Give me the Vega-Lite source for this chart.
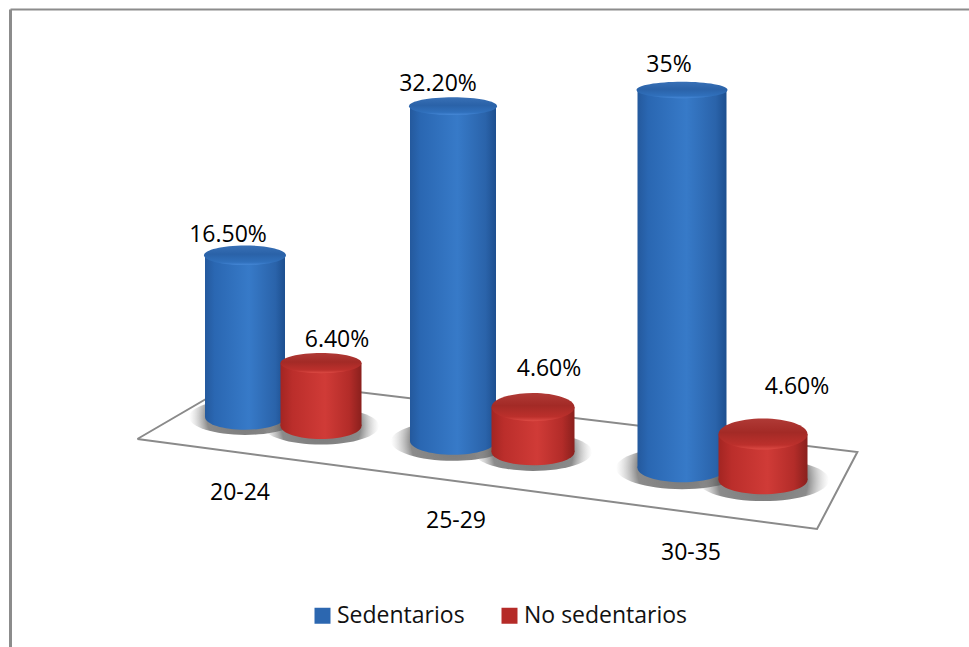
{
  "$schema": "https://vega.github.io/schema/vega-lite/v6.json",
  "width": 959,
  "height": 638,
  "autosize": "none",
  "padding": {"left": 10, "top": 9, "right": 0, "bottom": 0},
  "background": "#ffffff",
  "view": {"stroke": null},
  "config": {
    "style": {
      "caption": {"font": "Open Sans", "fontSize": 23, "fill": "#111111", "baseline": "middle", "align": "center"}
    }
  },
  "datasets": {
    "sedentarism": [
      {"slot": 0, "group": "20-24", "serie": "Sedentarios", "value": 16.5, "label": "16.50%"},
      {"slot": 1, "group": "20-24", "serie": "No sedentarios", "value": 6.4, "label": "6.40%"},
      {"slot": 2, "group": "25-29", "serie": "Sedentarios", "value": 32.2, "label": "32.20%"},
      {"slot": 3, "group": "25-29", "serie": "No sedentarios", "value": 4.6, "label": "4.60%"},
      {"slot": 4, "group": "30-35", "serie": "Sedentarios", "value": 35, "label": "35%"},
      {"slot": 5, "group": "30-35", "serie": "No sedentarios", "value": 4.6, "label": "4.60%"}
    ],
    "floor": [
      {"corner": 0, "slot": -0.475, "level": 0.8},
      {"corner": 1, "slot": -0.013, "level": 6.9},
      {"corner": 2, "slot": 5.475, "level": -0.5},
      {"corner": 3, "slot": 5.272, "level": -8.2},
      {"corner": 4, "slot": -0.475, "level": 0.8}
    ]
  },
  "data": {"name": "sedentarism"},
  "encoding": {
    "x": {
      "field": "slot",
      "type": "quantitative",
      "title": null,
      "scale": {"type": "linear", "zero": false, "nice": false,
        "domain": [-1, 0, 1, 2, 3, 4, 5, 6],
        "range": [0, 235, 311, 443, 523, 672, 753, 959]},
      "axis": {"orient": "top", "labels": false, "ticks": false, "grid": false, "title": null, "domainColor": "#8c8c8c", "domainWidth": 2}
    }
  },
  "resolve": {"scale": {"y": "independent"}, "axis": {"y": "independent"}},
  "layer": [
    {
      "data": {"name": "floor"},
      "mark": {"type": "line", "stroke": "#8a8a8a", "strokeWidth": 2, "strokeJoin": "miter"},
      "encoding": {
        "y": {"field": "level", "type": "quantitative", "title": null,
          "scale": {"domain": [-20, 43.8], "zero": false, "nice": false},
          "axis": {"orient": "left", "labels": false, "ticks": false, "grid": false, "title": null, "domainColor": "#8c8c8c", "domainWidth": 3}},
        "order": {"field": "corner", "type": "quantitative"}
      }
    },
    {
      "transform": [{"filter": "datum.slot === 0"}],
      "mark": {"type": "point", "filled": true, "opacity": 1, "strokeWidth": 0, "shape": "M-1,0A1,0.32,0,1,1,1,0A1,0.32,0,1,1,-1,0Z", "size": 12544,
        "fill": {"gradient": "radial", "x1": 0.5, "y1": 0.5, "r1": 0, "x2": 0.5, "y2": 0.5, "r2": 0.5, "stops": [{"offset": 0, "color": "rgba(85,85,85,0.8)"}, {"offset": 0.68, "color": "rgba(90,90,90,0.7)"}, {"offset": 1, "color": "rgba(170,170,170,0)"}]}},
      "encoding": {"y": {"datum": 0, "axis": null, "scale": {"domain": [-23.47, 41.63], "zero": false, "nice": false}}}
    },
    {
      "transform": [{"filter": "datum.slot === 1"}],
      "mark": {"type": "point", "filled": true, "opacity": 1, "strokeWidth": 0, "shape": "M-1,0A1,0.32,0,1,1,1,0A1,0.32,0,1,1,-1,0Z", "size": 13456,
        "fill": {"gradient": "radial", "x1": 0.5, "y1": 0.5, "r1": 0, "x2": 0.5, "y2": 0.5, "r2": 0.5, "stops": [{"offset": 0, "color": "rgba(85,85,85,0.8)"}, {"offset": 0.68, "color": "rgba(90,90,90,0.7)"}, {"offset": 1, "color": "rgba(170,170,170,0)"}]}},
      "encoding": {"y": {"datum": 0, "axis": null, "scale": {"domain": [-22.46, 42.38], "zero": false, "nice": false}}}
    },
    {
      "transform": [{"filter": "datum.slot === 2"}],
      "mark": {"type": "point", "filled": true, "opacity": 1, "strokeWidth": 0, "shape": "M-1,0A1,0.32,0,1,1,1,0A1,0.32,0,1,1,-1,0Z", "size": 15376,
        "fill": {"gradient": "radial", "x1": 0.5, "y1": 0.5, "r1": 0, "x2": 0.5, "y2": 0.5, "r2": 0.5, "stops": [{"offset": 0, "color": "rgba(85,85,85,0.8)"}, {"offset": 0.68, "color": "rgba(90,90,90,0.7)"}, {"offset": 1, "color": "rgba(170,170,170,0)"}]}},
      "encoding": {"y": {"datum": 0, "axis": null, "scale": {"domain": [-19.81, 41.54], "zero": false, "nice": false}}}
    },
    {
      "transform": [{"filter": "datum.slot === 3"}],
      "mark": {"type": "point", "filled": true, "opacity": 1, "strokeWidth": 0, "shape": "M-1,0A1,0.32,0,1,1,1,0A1,0.32,0,1,1,-1,0Z", "size": 13924,
        "fill": {"gradient": "radial", "x1": 0.5, "y1": 0.5, "r1": 0, "x2": 0.5, "y2": 0.5, "r2": 0.5, "stops": [{"offset": 0, "color": "rgba(85,85,85,0.8)"}, {"offset": 0.68, "color": "rgba(90,90,90,0.7)"}, {"offset": 1, "color": "rgba(170,170,170,0)"}]}},
      "encoding": {"y": {"datum": 0, "axis": null, "scale": {"domain": [-19.94, 45.3], "zero": false, "nice": false}}}
    },
    {
      "transform": [{"filter": "datum.slot === 4"}],
      "mark": {"type": "point", "filled": true, "opacity": 1, "strokeWidth": 0, "shape": "M-1,0A1,0.32,0,1,1,1,0A1,0.32,0,1,1,-1,0Z", "size": 17424,
        "fill": {"gradient": "radial", "x1": 0.5, "y1": 0.5, "r1": 0, "x2": 0.5, "y2": 0.5, "r2": 0.5, "stops": [{"offset": 0, "color": "rgba(85,85,85,0.8)"}, {"offset": 0.68, "color": "rgba(90,90,90,0.7)"}, {"offset": 1, "color": "rgba(170,170,170,0)"}]}},
      "encoding": {"y": {"datum": 0, "axis": null, "scale": {"domain": [-16.57, 42.5], "zero": false, "nice": false}}}
    },
    {
      "transform": [{"filter": "datum.slot === 5"}],
      "mark": {"type": "point", "filled": true, "opacity": 1, "strokeWidth": 0, "shape": "M-1,0A1,0.32,0,1,1,1,0A1,0.32,0,1,1,-1,0Z", "size": 17424,
        "fill": {"gradient": "radial", "x1": 0.5, "y1": 0.5, "r1": 0, "x2": 0.5, "y2": 0.5, "r2": 0.5, "stops": [{"offset": 0, "color": "rgba(85,85,85,0.8)"}, {"offset": 0.68, "color": "rgba(90,90,90,0.7)"}, {"offset": 1, "color": "rgba(170,170,170,0)"}]}},
      "encoding": {"y": {"datum": 0, "axis": null, "scale": {"domain": [-16.7, 47.1], "zero": false, "nice": false}}}
    },
    {
      "transform": [{"filter": "datum.slot === 0"}],
      "encoding": {"y": {"field": "value", "type": "quantitative", "title": null, "axis": null, "scale": {"domain": [-23.47, 41.63], "zero": false, "nice": false}}},
      "layer": [
        {"mark": {"type": "point", "filled": true, "opacity": 1, "strokeWidth": 0, "shape": "M-1,0A1,0.32,0,1,1,1,0A1,0.32,0,1,1,-1,0Z", "size": 6400,
          "fill": {"gradient": "linear", "x1": 0, "y1": 0, "x2": 1, "y2": 0, "stops": [{"offset": 0, "color": "#24599d"}, {"offset": 0.12, "color": "#2a67b2"}, {"offset": 0.55, "color": "#377ac8"}, {"offset": 0.88, "color": "#2a63aa"}, {"offset": 1, "color": "#1d4f8f"}]}},
          "encoding": {"y": {"datum": 0}}},
        {"mark": {"type": "bar", "orient": "vertical", "size": 80,
          "fill": {"gradient": "linear", "x1": 0, "y1": 0, "x2": 1, "y2": 0, "stops": [{"offset": 0, "color": "#24599d"}, {"offset": 0.12, "color": "#2a67b2"}, {"offset": 0.55, "color": "#377ac8"}, {"offset": 0.88, "color": "#2a63aa"}, {"offset": 1, "color": "#1d4f8f"}]}},
          "encoding": {"y2": {"datum": 0}}},
        {"mark": {"type": "point", "filled": true, "opacity": 1, "strokeWidth": 0, "size": 6724, "shape": "M-1,0A1,0.24,0,1,1,1,0A1,0.24,0,1,1,-1,0Z",
          "fill": {"gradient": "linear", "x1": 0, "y1": 0, "x2": 0, "y2": 1, "stops": [{"offset": 0, "color": "#3870b6"}, {"offset": 0.45, "color": "#2a62a8"}, {"offset": 0.85, "color": "#3070bc"}, {"offset": 1, "color": "#4587d6"}]}}},
        {"mark": {"type": "text", "style": "caption", "dx": -17, "dy": -20}, "encoding": {"text": {"field": "label", "type": "nominal"}}},
        {"mark": {"type": "text", "style": "caption", "dx": -5, "dy": 76}, "encoding": {"y": {"datum": 0}, "text": {"field": "group", "type": "nominal"}}}
      ]
    },
    {
      "transform": [{"filter": "datum.slot === 1"}],
      "encoding": {"y": {"field": "value", "type": "quantitative", "title": null, "axis": null, "scale": {"domain": [-22.46, 42.38], "zero": false, "nice": false}}},
      "layer": [
        {"mark": {"type": "point", "filled": true, "opacity": 1, "strokeWidth": 0, "shape": "M-1,0A1,0.32,0,1,1,1,0A1,0.32,0,1,1,-1,0Z", "size": 6561,
          "fill": {"gradient": "linear", "x1": 0, "y1": 0, "x2": 1, "y2": 0, "stops": [{"offset": 0, "color": "#a32522"}, {"offset": 0.15, "color": "#bb2e2b"}, {"offset": 0.55, "color": "#d03b37"}, {"offset": 0.85, "color": "#b32c29"}, {"offset": 1, "color": "#8a201d"}]}},
          "encoding": {"y": {"datum": 0}}},
        {"mark": {"type": "bar", "orient": "vertical", "size": 81,
          "fill": {"gradient": "linear", "x1": 0, "y1": 0, "x2": 1, "y2": 0, "stops": [{"offset": 0, "color": "#a32522"}, {"offset": 0.15, "color": "#bb2e2b"}, {"offset": 0.55, "color": "#d03b37"}, {"offset": 0.85, "color": "#b32c29"}, {"offset": 1, "color": "#8a201d"}]}},
          "encoding": {"y2": {"datum": 0}}},
        {"mark": {"type": "point", "filled": true, "opacity": 1, "strokeWidth": 0, "size": 6561, "shape": "M-1,0A1,0.25,0,1,1,1,0A1,0.25,0,1,1,-1,0Z",
          "fill": {"gradient": "linear", "x1": 0, "y1": 0, "x2": 0, "y2": 1, "stops": [{"offset": 0, "color": "#b03a36"}, {"offset": 0.45, "color": "#a32a26"}, {"offset": 0.85, "color": "#bc302c"}, {"offset": 1, "color": "#dd4a44"}]}}},
        {"mark": {"type": "text", "style": "caption", "dx": 16, "dy": -23}, "encoding": {"text": {"field": "label", "type": "nominal"}}}
      ]
    },
    {
      "transform": [{"filter": "datum.slot === 2"}],
      "encoding": {"y": {"field": "value", "type": "quantitative", "title": null, "axis": null, "scale": {"domain": [-19.81, 41.54], "zero": false, "nice": false}}},
      "layer": [
        {"mark": {"type": "point", "filled": true, "opacity": 1, "strokeWidth": 0, "shape": "M-1,0A1,0.32,0,1,1,1,0A1,0.32,0,1,1,-1,0Z", "size": 7396,
          "fill": {"gradient": "linear", "x1": 0, "y1": 0, "x2": 1, "y2": 0, "stops": [{"offset": 0, "color": "#24599d"}, {"offset": 0.12, "color": "#2a67b2"}, {"offset": 0.55, "color": "#377ac8"}, {"offset": 0.88, "color": "#2a63aa"}, {"offset": 1, "color": "#1d4f8f"}]}},
          "encoding": {"y": {"datum": 0}}},
        {"mark": {"type": "bar", "orient": "vertical", "size": 86,
          "fill": {"gradient": "linear", "x1": 0, "y1": 0, "x2": 1, "y2": 0, "stops": [{"offset": 0, "color": "#24599d"}, {"offset": 0.12, "color": "#2a67b2"}, {"offset": 0.55, "color": "#377ac8"}, {"offset": 0.88, "color": "#2a63aa"}, {"offset": 1, "color": "#1d4f8f"}]}},
          "encoding": {"y2": {"datum": 0}}},
        {"mark": {"type": "point", "filled": true, "opacity": 1, "strokeWidth": 0, "size": 7744, "shape": "M-1,0A1,0.2,0,1,1,1,0A1,0.2,0,1,1,-1,0Z",
          "fill": {"gradient": "linear", "x1": 0, "y1": 0, "x2": 0, "y2": 1, "stops": [{"offset": 0, "color": "#3870b6"}, {"offset": 0.45, "color": "#2a62a8"}, {"offset": 0.85, "color": "#3070bc"}, {"offset": 1, "color": "#4587d6"}]}}},
        {"mark": {"type": "text", "style": "caption", "dx": -15, "dy": -22}, "encoding": {"text": {"field": "label", "type": "nominal"}}},
        {"mark": {"type": "text", "style": "caption", "dx": 3, "dy": 80}, "encoding": {"y": {"datum": 0}, "text": {"field": "group", "type": "nominal"}}}
      ]
    },
    {
      "transform": [{"filter": "datum.slot === 3"}],
      "encoding": {"y": {"field": "value", "type": "quantitative", "title": null, "axis": null, "scale": {"domain": [-19.94, 45.3], "zero": false, "nice": false}}},
      "layer": [
        {"mark": {"type": "point", "filled": true, "opacity": 1, "strokeWidth": 0, "shape": "M-1,0A1,0.32,0,1,1,1,0A1,0.32,0,1,1,-1,0Z", "size": 6889,
          "fill": {"gradient": "linear", "x1": 0, "y1": 0, "x2": 1, "y2": 0, "stops": [{"offset": 0, "color": "#a32522"}, {"offset": 0.15, "color": "#bb2e2b"}, {"offset": 0.55, "color": "#d03b37"}, {"offset": 0.85, "color": "#b32c29"}, {"offset": 1, "color": "#8a201d"}]}},
          "encoding": {"y": {"datum": 0}}},
        {"mark": {"type": "bar", "orient": "vertical", "size": 83,
          "fill": {"gradient": "linear", "x1": 0, "y1": 0, "x2": 1, "y2": 0, "stops": [{"offset": 0, "color": "#a32522"}, {"offset": 0.15, "color": "#bb2e2b"}, {"offset": 0.55, "color": "#d03b37"}, {"offset": 0.85, "color": "#b32c29"}, {"offset": 1, "color": "#8a201d"}]}},
          "encoding": {"y2": {"datum": 0}}},
        {"mark": {"type": "point", "filled": true, "opacity": 1, "strokeWidth": 0, "size": 6889, "shape": "M-1,0A1,0.34,0,1,1,1,0A1,0.34,0,1,1,-1,0Z",
          "fill": {"gradient": "linear", "x1": 0, "y1": 0, "x2": 0, "y2": 1, "stops": [{"offset": 0, "color": "#b03a36"}, {"offset": 0.45, "color": "#a32a26"}, {"offset": 0.85, "color": "#bc302c"}, {"offset": 1, "color": "#dd4a44"}]}}},
        {"mark": {"type": "text", "style": "caption", "dx": 16, "dy": -38}, "encoding": {"text": {"field": "label", "type": "nominal"}}}
      ]
    },
    {
      "transform": [{"filter": "datum.slot === 4"}],
      "encoding": {"y": {"field": "value", "type": "quantitative", "title": null, "axis": null, "scale": {"domain": [-16.57, 42.5], "zero": false, "nice": false}}},
      "layer": [
        {"mark": {"type": "point", "filled": true, "opacity": 1, "strokeWidth": 0, "shape": "M-1,0A1,0.32,0,1,1,1,0A1,0.32,0,1,1,-1,0Z", "size": 7921,
          "fill": {"gradient": "linear", "x1": 0, "y1": 0, "x2": 1, "y2": 0, "stops": [{"offset": 0, "color": "#24599d"}, {"offset": 0.12, "color": "#2a67b2"}, {"offset": 0.55, "color": "#377ac8"}, {"offset": 0.88, "color": "#2a63aa"}, {"offset": 1, "color": "#1d4f8f"}]}},
          "encoding": {"y": {"datum": 0}}},
        {"mark": {"type": "bar", "orient": "vertical", "size": 89,
          "fill": {"gradient": "linear", "x1": 0, "y1": 0, "x2": 1, "y2": 0, "stops": [{"offset": 0, "color": "#24599d"}, {"offset": 0.12, "color": "#2a67b2"}, {"offset": 0.55, "color": "#377ac8"}, {"offset": 0.88, "color": "#2a63aa"}, {"offset": 1, "color": "#1d4f8f"}]}},
          "encoding": {"y2": {"datum": 0}}},
        {"mark": {"type": "point", "filled": true, "opacity": 1, "strokeWidth": 0, "size": 8281, "shape": "M-1,0A1,0.18,0,1,1,1,0A1,0.18,0,1,1,-1,0Z",
          "fill": {"gradient": "linear", "x1": 0, "y1": 0, "x2": 0, "y2": 1, "stops": [{"offset": 0, "color": "#3870b6"}, {"offset": 0.45, "color": "#2a62a8"}, {"offset": 0.85, "color": "#3070bc"}, {"offset": 1, "color": "#4587d6"}]}}},
        {"mark": {"type": "text", "style": "caption", "dx": -13, "dy": -25}, "encoding": {"text": {"field": "label", "type": "nominal"}}},
        {"mark": {"type": "text", "style": "caption", "dx": 9, "dy": 85}, "encoding": {"y": {"datum": 0}, "text": {"field": "group", "type": "nominal"}}}
      ]
    },
    {
      "transform": [{"filter": "datum.slot === 5"}],
      "encoding": {"y": {"field": "value", "type": "quantitative", "title": null, "axis": null, "scale": {"domain": [-16.7, 47.1], "zero": false, "nice": false}}},
      "layer": [
        {"mark": {"type": "point", "filled": true, "opacity": 1, "strokeWidth": 0, "shape": "M-1,0A1,0.32,0,1,1,1,0A1,0.32,0,1,1,-1,0Z", "size": 7921,
          "fill": {"gradient": "linear", "x1": 0, "y1": 0, "x2": 1, "y2": 0, "stops": [{"offset": 0, "color": "#a32522"}, {"offset": 0.15, "color": "#bb2e2b"}, {"offset": 0.55, "color": "#d03b37"}, {"offset": 0.85, "color": "#b32c29"}, {"offset": 1, "color": "#8a201d"}]}},
          "encoding": {"y": {"datum": 0}}},
        {"mark": {"type": "bar", "orient": "vertical", "size": 89,
          "fill": {"gradient": "linear", "x1": 0, "y1": 0, "x2": 1, "y2": 0, "stops": [{"offset": 0, "color": "#a32522"}, {"offset": 0.15, "color": "#bb2e2b"}, {"offset": 0.55, "color": "#d03b37"}, {"offset": 0.85, "color": "#b32c29"}, {"offset": 1, "color": "#8a201d"}]}},
          "encoding": {"y2": {"datum": 0}}},
        {"mark": {"type": "point", "filled": true, "opacity": 1, "strokeWidth": 0, "size": 7921, "shape": "M-1,0A1,0.35,0,1,1,1,0A1,0.35,0,1,1,-1,0Z",
          "fill": {"gradient": "linear", "x1": 0, "y1": 0, "x2": 0, "y2": 1, "stops": [{"offset": 0, "color": "#b03a36"}, {"offset": 0.45, "color": "#a32a26"}, {"offset": 0.85, "color": "#bc302c"}, {"offset": 1, "color": "#dd4a44"}]}}},
        {"mark": {"type": "text", "style": "caption", "dx": 34, "dy": -47}, "encoding": {"text": {"field": "label", "type": "nominal"}}}
      ]
    },
    {
      "mark": {"type": "point", "filled": true, "size": 0, "opacity": 1},
      "encoding": {
        "color": {
          "field": "serie",
          "type": "nominal",
          "scale": {"domain": ["Sedentarios", "No sedentarios"], "range": ["#2c67b0", "#b52b28"]},
          "legend": {
            "title": null,
            "orient": "none",
            "legendX": 301,
            "legendY": 595,
            "direction": "horizontal",
            "columns": 2,
            "symbolType": "square",
            "symbolSize": 256,
            "symbolOpacity": 1,
            "columnPadding": 33,
            "labelFont": "Open Sans",
            "labelFontSize": 23,
            "labelColor": "#111111",
            "labelOffset": 3,
            "labelLimit": 300
          }
        }
      }
    }
  ]
}
